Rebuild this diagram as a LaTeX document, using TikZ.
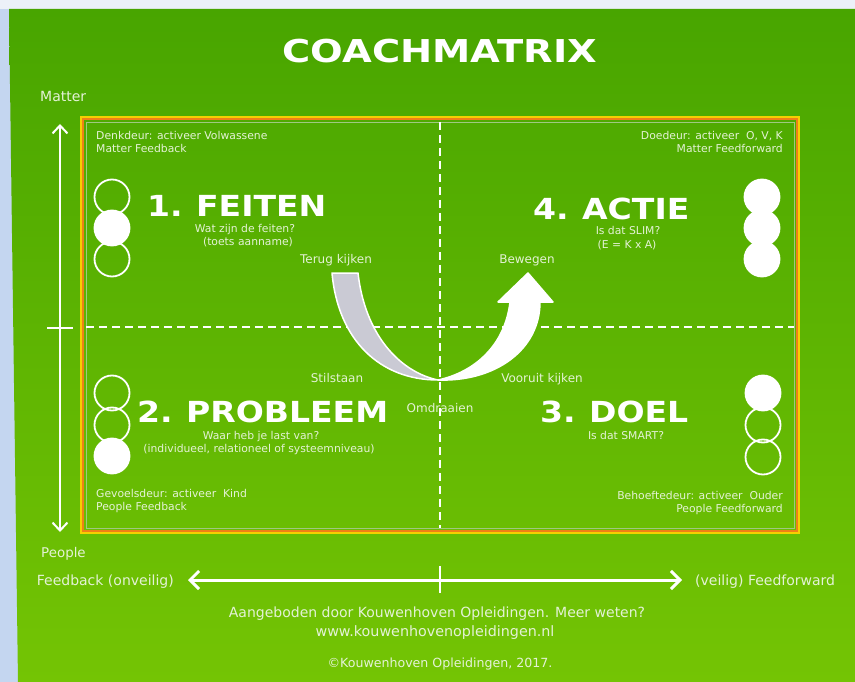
\documentclass[tikz,border=0pt]{standalone}
\usepackage{fontspec}
\setmainfont{DejaVu Sans}
\newfontfamily\headfont[FakeStretch=1.14]{DejaVu Sans}
\newfontfamily\titlefont[FakeStretch=1.22]{DejaVu Sans}
\usetikzlibrary{arrows.meta}

\definecolor{gtop}{RGB}{72,165,0}
\definecolor{gbot}{RGB}{116,196,4}
\definecolor{frameyellow}{RGB}{245,208,0}
\definecolor{frameorange}{RGB}{238,128,24}
\definecolor{frameinner}{RGB}{160,200,130}
\definecolor{softtext}{RGB}{228,242,214}
\definecolor{bandgray}{RGB}{202,202,212}
\definecolor{sideblue}{RGB}{196,214,240}
\definecolor{topstrip}{RGB}{236,241,248}

\tikzset{
  txt/.style={inner sep=0pt, text=softtext},
  smalltxt/.style={txt, font=\fontsize{10.8}{12}\selectfont},
  subtxt/.style={txt, anchor=base, font=\fontsize{10.8}{12}\selectfont},
  flowtxt/.style={txt, anchor=base, font=\fontsize{12}{14}\selectfont},
  sidetxt/.style={txt, font=\fontsize{14}{16}\selectfont},
  heading/.style={inner sep=0pt, text=white, anchor=base west,
    font=\headfont\bfseries\fontsize{29}{30}\selectfont},
  lamp/.style={circle, draw=white, line width=1.8pt, minimum size=35pt, inner sep=0pt},
  lampon/.style={lamp, fill=white},
  divider/.style={white, line width=1.5pt, dash pattern=on 8pt off 5pt},
  axisline/.style={white, line width=2pt,
    {Straight Barb[length=8pt,width=15pt,line width=2pt]}-{Straight Barb[length=8pt,width=15pt,line width=2pt]}},
  baseline/.style={white, line width=3pt,
    {Straight Barb[length=9pt,width=18pt,line width=3pt]}-{Straight Barb[length=9pt,width=18pt,line width=3pt]}},
}

\begin{document}
\begin{tikzpicture}[x=1pt,y=1pt]
\useasboundingbox (0,0) rectangle (855,-682);

% backdrop
\fill[sideblue] (0,0) rectangle (855,-682);
\fill[topstrip] (0,0) rectangle (855,-9);
\shade[top color=gtop, bottom color=gbot] (9,-9) -- (855,-9) -- (855,-682) -- (18,-682) -- cycle;

% title
\node[anchor=base, inner sep=0pt, text=white,
  font=\titlefont\bfseries\fontsize{31.5}{32}\selectfont] (title) at (440,-63) {COACHMATRIX};

% matrix frame
\draw[frameyellow, line width=2pt] (81,-117) rectangle (799,-533);
\draw[frameorange, line width=2pt] (83,-119) rectangle (797,-531);
\draw[frameinner, line width=0.8pt] (86,-122) rectangle (794,-528);

% quadrant dividers
\coordinate (vtop) at (440,-122);
\coordinate (vbot) at (440,-528);
\coordinate (hleft) at (86,-327);
\coordinate (hright) at (794,-327);
\draw[divider] (vtop) -- (vbot);
\draw[divider] (hleft) -- (hright);

% vertical axis: matter / people
\coordinate (axT) at (60,-124);
\coordinate (axB) at (60,-532);
\coordinate (tickL) at (47,-328);
\coordinate (tickR) at (73,-328);
\draw[axisline] (axT) -- (axB);
\draw[white, line width=2pt] (tickL) -- (tickR);
\node[sidetxt, anchor=base west] (matter) at (40,-102) {Matter};
\node[sidetxt, anchor=base west, font=\fontsize{13.4}{15}\selectfont] (people) at (41,-557) {People};

% horizontal axis: feedback / feedforward
\coordinate (hxL) at (188,-580);
\coordinate (hxR) at (682,-580);
\coordinate (htT) at (440,-566);
\coordinate (htB) at (440,-593);
\draw[baseline] (hxL) -- (hxR);
\draw[white, line width=2.5pt] (htT) -- (htB);
\node[sidetxt, anchor=base east] (fb) at (174,-585) {Feedback (onveilig)};
\node[sidetxt, anchor=base west] (ff) at (695,-585) {(veilig) Feedforward};

% footer
\node[sidetxt, anchor=base] (offer) at (437,-617) {Aangeboden door Kouwenhoven Opleidingen. Meer weten?};
\node[sidetxt, anchor=base, font=\fontsize{14.3}{16}\selectfont] (web) at (435,-636) {www.kouwenhovenopleidingen.nl};
\node[sidetxt, anchor=base, font=\fontsize{12.6}{14}\selectfont] (copy) at (440,-667) {©Kouwenhoven Opleidingen, 2017.};

% corner notes
\node[smalltxt, anchor=base west] (dk1) at (96,-140) {Denkdeur: activeer Volwassene};
\node[smalltxt, anchor=base west] (dk2) at (96,-153) {Matter Feedback};
\node[smalltxt, anchor=base east] (dd1) at (783,-140) {Doedeur: activeer\ \ O, V, K};
\node[smalltxt, anchor=base east] (dd2) at (783,-153) {Matter Feedforward};
\node[smalltxt, anchor=base west] (gd1) at (96,-497) {Gevoelsdeur: activeer\ \ Kind};
\node[smalltxt, anchor=base west] (gd2) at (96,-510) {People Feedback};
\node[smalltxt, anchor=base east] (bd1) at (783,-499) {Behoeftedeur: activeer\ \ Ouder};
\node[smalltxt, anchor=base east] (bd2) at (783,-512) {People Feedforward};

% quadrant headings and questions
\node[heading] (feiten) at (147,-217) {1.\hspace{-2pt} FEITEN};
\node[subtxt] (feitenq) at (245,-233) {Wat zijn de feiten?};
\node[subtxt] (feitenq2) at (248,-245) {(toets aanname)};

\node[heading] (actie) at (533,-219) {4.\hspace{-2pt} ACTIE};
\node[subtxt] (actieq) at (628,-235) {Is dat SLIM?};
\node[subtxt] (actieq2) at (627,-248) {(E = K x A)};

\node[heading] (probleem) at (137,-422) {2.\hspace{-2pt} PROBLEEM};
\node[subtxt] (probq) at (261,-439) {Waar heb je last van?};
\node[subtxt] (probq2) at (259,-452) {(individueel, relationeel of systeemniveau)};

\node[heading] (doel) at (540,-422) {3.\hspace{-2pt} DOEL};
\node[subtxt] (doelq) at (626,-439) {Is dat SMART?};

% signal lamps
\node[lamp]   (tl1) at (112,-197) {};
\node[lampon] (tl2) at (112,-228) {};
\node[lamp]   (tl3) at (112,-259) {};

\node[lampon] (tr1) at (762,-197) {};
\node[lampon] (tr2) at (762,-228) {};
\node[lampon] (tr3) at (762,-259) {};

\node[lamp]   (bl1) at (112,-393) {};
\node[lamp]   (bl2) at (112,-425) {};
\node[lampon] (bl3) at (112,-456) {};

\node[lampon] (br1) at (763,-393) {};
\node[lamp]   (br2) at (763,-425) {};
\node[lamp]   (br3) at (763,-457) {};

% turning arrow: grey back side, white front with head
\filldraw[fill=bandgray, draw=white, line width=1.5pt, line join=round]
  (332,-273) -- (358,-273) .. controls (365,-335) and (400,-372) .. (438,-380)
  .. controls (380,-380) and (338,-340) .. (332,-273) -- cycle;
\filldraw[fill=white, draw=white, line width=1.5pt, line join=round]
  (438,-380) .. controls (475,-372) and (505,-345) .. (510,-302)
  -- (498,-302) -- (528,-273) -- (553,-302) -- (540,-302)
  .. controls (540,-350) and (495,-382) .. (438,-380) -- cycle;

% labels around the turn
\node[flowtxt] (terug) at (336,-263) {Terug kijken};
\node[flowtxt] (bewegen) at (527,-263) {Bewegen};
\node[flowtxt] (stil) at (337,-382) {Stilstaan};
\node[flowtxt] (vooruit) at (542,-382) {Vooruit kijken};
\node[flowtxt] (omdraai) at (440,-412) {Omdraaien};

\end{tikzpicture}
\end{document}
